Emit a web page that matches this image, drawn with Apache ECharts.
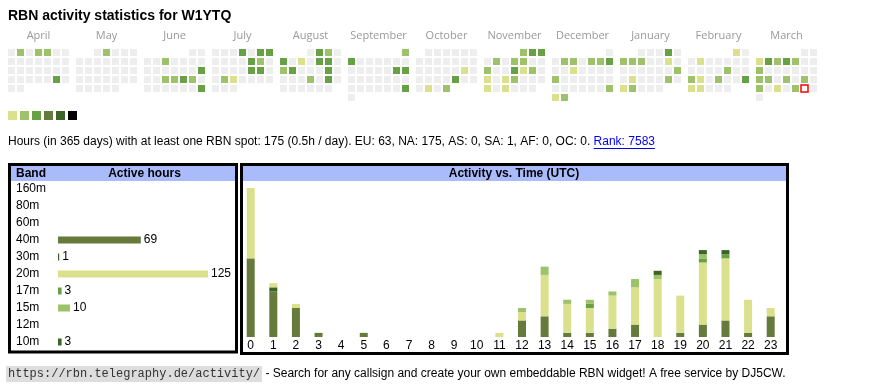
<!DOCTYPE html>
<html><head><meta charset="utf-8">
<script src="https://cdn.jsdelivr.net/npm/echarts@6/dist/echarts.min.js"></script>
<style>html,body{margin:0;padding:0;background:#fff}#c{width:870px;height:390px}</style>
</head><body><div id="c"></div><script>
// ---------- data ----------
const monthNames = ['April','May','June','July','August','September','October','November','December','January','February','March'];
const monthRanges = ['2024-04','2024-05','2024-06','2024-07','2024-08','2024-09','2024-10','2024-11','2024-12','2025-01','2025-02','2025-03'];
const activeDays = [
 '2024-04-02','2024-04-04','2024-04-05','2024-04-27',
 '2024-05-02',
 '2024-06-05','2024-06-16','2024-06-19','2024-06-20','2024-06-21','2024-06-22','2024-06-30',
 '2024-07-04','2024-07-06','2024-07-07','2024-07-12','2024-07-13','2024-07-19','2024-07-20','2024-07-23','2024-07-24',
 '2024-08-02','2024-08-03','2024-08-05','2024-08-07','2024-08-09','2024-08-10','2024-08-12','2024-08-13','2024-08-17','2024-08-22','2024-08-24',
 '2024-09-01','2024-09-02','2024-09-14','2024-09-15','2024-09-29',
 '2024-10-19','2024-10-25','2024-10-29','2024-10-31',
 '2024-11-01','2024-11-02','2024-11-03','2024-11-05','2024-11-07','2024-11-08','2024-11-11','2024-11-14','2024-11-15','2024-11-16','2024-11-18','2024-11-20','2024-11-21','2024-11-25','2024-11-27',
 '2024-12-03','2024-12-04','2024-12-06','2024-12-07','2024-12-08','2024-12-11','2024-12-16','2024-12-29','2024-12-30','2024-12-31',
 '2025-01-04','2025-01-06','2025-01-07','2025-01-08','2025-01-11','2025-01-19','2025-01-21','2025-01-25','2025-01-27','2025-01-28',
 '2025-02-01','2025-02-04','2025-02-14','2025-02-17','2025-02-18','2025-02-20','2025-02-23','2025-02-24','2025-02-25',
 '2025-03-03','2025-03-04','2025-03-05','2025-03-06','2025-03-07','2025-03-10','2025-03-17','2025-03-18','2025-03-20','2025-03-22','2025-03-24','2025-03-26','2025-03-28'
];
const activeLevels = [
 2,2,2,3,
 2,
 2,3,2,2,3,2,3,
 3,3,3,3,2,3,3,2,1,
 3,2,3,1,3,3,2,3,3,2,3,
 2,3,3,3,3,
 1,3,1,2,
 2,3,3,2,2,2,2,3,1,2,1,1,2,1,1,
 2,2,2,2,3,1,2,2,1,2,
 3,2,2,2,1,2,1,2,1,2,
 1,1,2,2,1,2,3,1,1,
 1,3,2,3,2,2,2,2,2,2,2,1,2
];
const legendLevels = [1,2,3,4,5,6];
const todayDate = '2025-03-29';

const bands = ['160m','80m','60m','40m','30m','20m','17m','15m','12m','10m'];
const bandHours = [0,0,0,69,1,125,3,10,0,3];

const hours = ['0','1','2','3','4','5','6','7','8','9','10','11','12','13','14','15','16','17','18','19','20','21','22','23'];
const hourly40m = [19,11,7,1,0,1,0,0,0,0,0,0,4,5,1,1,2,3,0,1,3,4,1,5];
const hourly30m = [0,1,0,0,0,0,0,0,0,0,0,0,0,0,0,0,0,0,0,0,0,0,0,0];
const hourly20m = [17,1,1,0,0,0,0,0,0,0,0,1,2,10,7,6,8,9,14,9,15,15,8,2];
const hourly17m = [0,0,0,0,0,0,0,0,0,0,0,0,0,0,0,1,0,0,0,0,1,1,0,0];
const hourly15m = [0,0,0,0,0,0,0,0,0,0,0,0,1,2,1,1,1,2,1,0,1,0,0,0];
const hourly10m = [0,0,0,0,0,0,0,0,0,0,0,0,0,0,0,0,0,0,1,0,1,1,0,0];

const statsText = 'Hours (in 365 days) with at least one RBN spot: 175 (0.5h / day). EU: 63, NA: 175, AS: 0, SA: 1, AF: 0, OC: 0. ';
const rankText = 'Rank: 7583';
const urlText = 'https://rbn.telegraphy.de/activity/';
const footerText = ' - Search for any callsign and create your own embeddable RBN widget! A free service by DJ5CW.';

// ---------- styles ----------
const levelColors = ['#dae08b','#9dc26a','#68a045','#667a3c','#3d6428','#000000'];
const bandColors = {'160m':'#888','80m':'#888','60m':'#888','40m':'#667a3c','30m':'#3d6428','20m':'#dae08b','17m':'#68a045','15m':'#9dc26a','12m':'#888','10m':'#3d6428'};
const SANS = 'Liberation Sans';
const MONO = 'Liberation Mono';

const ctx = document.createElement('canvas').getContext('2d');
function tw(font, s){ ctx.font = font; return ctx.measureText(s).width; }

const chart = echarts.init(document.getElementById('c'), null, {renderer:'canvas'});

const calendars = monthRanges.map((r,i)=>({
  orient:'vertical', range:r, left:7+68*i, top:48, cellSize:[9,9],
  splitLine:{show:false}, dayLabel:{show:false, firstDay:1}, monthLabel:{show:false}, yearLabel:{show:false},
  itemStyle:{color:'#eeeeee', borderColor:'#ffffff', borderWidth:2}
}));

const heatSeries = monthRanges.map((r,i)=>({
  type:'heatmap', coordinateSystem:'calendar', calendarIndex:i,
  emphasis:{disabled:true},
  data: activeDays.map((d,k)=>[d, activeLevels[k]]).filter(p=>p[0].startsWith(r))
}));

const hourSeriesDef = [['40m',hourly40m],['30m',hourly30m],['20m',hourly20m],['17m',hourly17m],['15m',hourly15m],['10m',hourly10m]];

const statsFont = '12px "' + SANS + '"';
const statsW = tw(statsFont, statsText);
const rankW = tw(statsFont, rankText);
const urlFont = '12px "' + MONO + '"';
const urlW = tw(urlFont, urlText);

const graphics = [
  {type:'text', style:{text:'RBN activity statistics for W1YTQ', x:8, y:16, font:'bold 14px "'+SANS+'"', fill:'#000', verticalAlign:'middle'}},
  ...monthNames.map((m,i)=>({type:'text', style:{text:m, x:38.5+68*i, y:35.5, font:'11px "Open Sans"', fill:'#999', align:'center', verticalAlign:'middle'}})),
  {type:'text', style:{text:statsText, x:8, y:142, font:statsFont, fill:'#000', verticalAlign:'middle'}},
  {type:'text', style:{text:rankText, x:8+statsW, y:142, font:statsFont, fill:'#0000ee', verticalAlign:'middle'}},
  {type:'line', shape:{x1:8+statsW, y1:148.5, x2:8+statsW+rankW, y2:148.5}, style:{stroke:'#0000ee', lineWidth:1}},
  // band table
  {type:'rect', shape:{x:10, y:165, width:226, height:16}, style:{fill:'#aabbfc'}},
  {type:'rect', shape:{x:9.5, y:164.5, width:227, height:187.5}, style:{fill:'none', stroke:'#000', lineWidth:3}},
  {type:'text', style:{text:'Band', x:16, y:173.5, font:'bold 12px "'+SANS+'"', fill:'#000', verticalAlign:'middle'}},
  {type:'text', style:{text:'Active hours', x:144.5, y:173.5, font:'bold 12px "'+SANS+'"', fill:'#000', align:'center', verticalAlign:'middle'}},
  // activity box
  {type:'rect', shape:{x:242, y:165, width:545, height:16}, style:{fill:'#aabbfc'}},
  {type:'rect', shape:{x:241.5, y:164.5, width:546, height:189}, style:{fill:'none', stroke:'#000', lineWidth:3}},
  {type:'text', style:{text:'Activity vs. Time (UTC)', x:514, y:173.5, font:'bold 12px "'+SANS+'"', fill:'#000', align:'center', verticalAlign:'middle'}},
  // footer
  {type:'rect', shape:{x:6, y:366, width:urlW+4, height:16}, style:{fill:'#dddddd'}},
  {type:'text', style:{text:urlText, x:8, y:374, font:urlFont, fill:'#333', verticalAlign:'middle'}},
  {type:'text', style:{text:footerText, x:10+urlW, y:374, font:statsFont, fill:'#000', verticalAlign:'middle'}}
];

const option = {
  animation:false,
  textStyle:{fontFamily:SANS},
  calendar: calendars,
  visualMap: {
    type:'piecewise', orient:'horizontal', left:8, top:111, padding:0, itemWidth:9, itemHeight:9, itemGap:3,
    itemSymbol:'rect', showLabel:false, seriesIndex: monthRanges.map((r,i)=>i), selectedMode:false,
    pieces: legendLevels.map((v,i)=>({value:v, color:levelColors[i]}))
  },
  grid: [
    {left:58, top:180.5, width:150, height:170},
    {left:239.4, top:188, width:542.6, bottom:53}
  ],
  xAxis: [
    {gridIndex:0, type:'value', min:0, max:'dataMax', show:false},
    {gridIndex:1, type:'category', data:hours, axisLine:{show:false}, axisTick:{show:false},
     axisLabel:{margin:3, fontSize:12, color:'#000', interval:0}}
  ],
  yAxis: [
    {gridIndex:0, type:'category', data:bands, inverse:true, axisLine:{show:false}, axisTick:{show:false},
     axisLabel:{align:'left', margin:42, fontSize:12, color:'#000'}},
    {gridIndex:1, type:'value', min:0, max:function(v){return v.max;}, show:false}
  ],
  series: [
    ...heatSeries,
    {type:'scatter', coordinateSystem:'calendar', calendarIndex:11, symbol:'rect', symbolSize:7,
     itemStyle:{color:'#ffffff', borderColor:'#ff0000', borderWidth:1.5, opacity:1},
     emphasis:{disabled:true}, data:[{value:[todayDate,1], itemStyle:{color:'#ffffff', borderColor:'#ff0000'}}], z:5},
    {type:'bar', xAxisIndex:0, yAxisIndex:0, barWidth:7,
     data: bandHours.map((v,i)=>({value:v, itemStyle:{color:bandColors[bands[i]]}})),
     label:{show:true, position:'right', distance:3, fontSize:12, color:'#000', formatter:p=>p.value?String(p.value):''}},
    ...hourSeriesDef.map(([b,arr])=>({type:'bar', name:b, xAxisIndex:1, yAxisIndex:1, stack:'h', barWidth:8,
      itemStyle:{color:bandColors[b]}, data:arr}))
  ],
  graphic: graphics
};
chart.setOption(option);
</script></body></html>
